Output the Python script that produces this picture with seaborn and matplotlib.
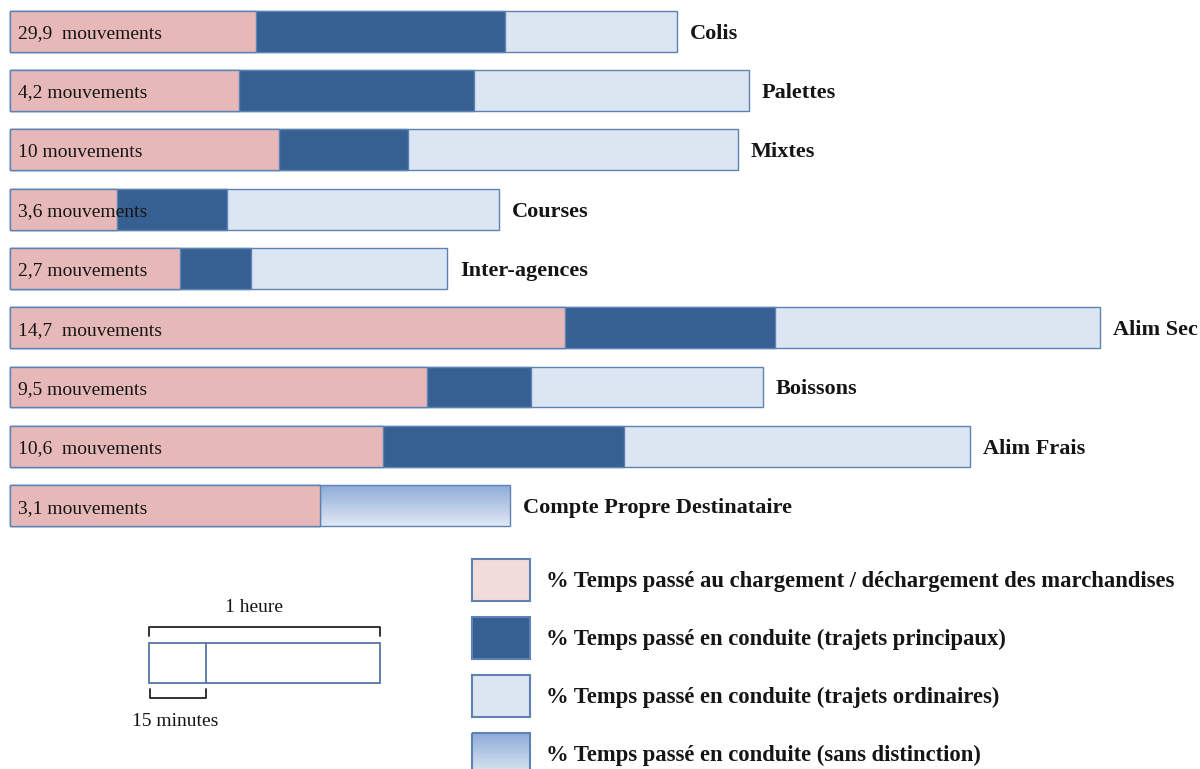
import numpy as np
import pandas as pd
import matplotlib
matplotlib.use("Agg")
import matplotlib.pyplot as plt
from matplotlib.patches import Rectangle
from matplotlib.colors import to_rgb
import seaborn as sns

# ---- data (durations in minutes per tour) ----
categories = ["Colis", "Palettes", "Mixtes", "Courses", "Inter-agences",
              "Alim Sec", "Boissons", "Alim Frais", "Compte Propre Destinataire"]
mouvements = ["29,9 ", "4,2", "10", "3,6", "2,7", "14,7 ", "9,5", "10,6 ", "3,1"]
chargement = [63.9, 59.5, 69.9, 27.8, 44.2, 144.2, 108.4, 96.9, 80.4]
conduite_principale = [64.7, 61.0, 33.5, 28.6, 18.4, 54.5, 26.9, 62.6, 0.0]
conduite_ordinaire = [44.7, 71.4, 85.7, 70.6, 50.9, 84.4, 60.3, 89.9, 0.0]
conduite_sans_distinction = [0.0, 0.0, 0.0, 0.0, 0.0, 0.0, 0.0, 0.0, 49.4]

legend_labels = [
    "% Temps passé au chargement / déchargement des marchandises",
    "% Temps passé en conduite (trajets principaux)",
    "% Temps passé en conduite (trajets ordinaires)",
    "% Temps passé en conduite (sans distinction)",
]
scale_hour_label = "1 heure"
scale_quarter_label = "15 minutes"

# ---- styling ----
PINK = "#e6b9b8"
PINK_LIGHT = "#f2dcdb"
DARK = "#376092"
LIGHT = "#dce6f2"
GRAD_TOP = "#8eacd9"
GRAD_BOTTOM = "#e0e8f4"
EDGE = "#5f82b4"
TEXT = "#151515"
SERIF = "Liberation Serif"

sns.set_theme(style="white")
plt.rcParams["font.family"] = [SERIF, "DejaVu Serif"]

W, H = 1200, 769
fig = plt.figure(figsize=(W / 100, H / 100), dpi=100)
fig.patch.set_facecolor("white")

PX_PER_MIN = 231 / 60.0      # one hour spans 231 px
X0_PX = 10                   # left edge of every bar
ROW_PX = 59.3                # distance between bar centres
FIRST_CENTER_PX = 31.2
TEXT_DROP = 2.5 / ROW_PX     # nudge labels so the glyphs sit centred on the bars
n = len(categories)
top_px = FIRST_CENTER_PX - 0.5 * ROW_PX
bot_px = FIRST_CENTER_PX + (n - 0.5) * ROW_PX
ax = fig.add_axes([0, 1 - bot_px / H, 1, (bot_px - top_px) / H])

df = pd.DataFrame({
    "categorie": categories,
    "chargement": chargement,
    "principale": conduite_principale,
    "ordinaire": conduite_ordinaire,
    "sans": conduite_sans_distinction,
})
df["cum_principale"] = df["chargement"] + df["principale"]
df["total"] = df["cum_principale"] + df["ordinaire"] + df["sans"]

bar_kw = dict(y="categorie", order=categories, orient="h", width=0.69,
              errorbar=None, edgecolor=EDGE, linewidth=1.0, ax=ax)
sns.barplot(data=df, x="total", color=LIGHT, saturation=1, **bar_kw)
total_bars = list(ax.containers[0])
sns.barplot(data=df, x="cum_principale", color=DARK, saturation=1, **bar_kw)
sns.barplot(data=df, x="chargement", color=PINK, saturation=1, **bar_kw)

# gradient fill for the undifferentiated driving time
grad = np.linspace(0, 1, 64)[:, None, None]
grad_img = (1 - grad) * np.array(to_rgb(GRAD_TOP)) + grad * np.array(to_rgb(GRAD_BOTTOM))
for i, row in df.iterrows():
    if row["sans"] > 0:
        left = row["cum_principale"] + row["ordinaire"]
        bar = total_bars[i]
        y_top = bar.get_y()
        h = bar.get_height()
        ax.imshow(grad_img, extent=(left, row["total"], y_top + h, y_top),
                  aspect="auto", origin="upper", zorder=0.5, interpolation="bilinear")
        bar.set_facecolor("none")

for i, row in df.iterrows():
    ax.text(8 / PX_PER_MIN, i + TEXT_DROP, f"{mouvements[i]} mouvements",
            ha="left", va="center", fontsize=14, color=TEXT, zorder=5)
    ax.text(row["total"] + 13 / PX_PER_MIN, i + TEXT_DROP, row["categorie"],
            ha="left", va="center", fontsize=16, fontweight="bold", color=TEXT)

ax.set_xlim(-X0_PX / PX_PER_MIN, (W - X0_PX) / PX_PER_MIN)
ax.set_ylim(n - 0.5, -0.5)
ax.axis("off")

# ---- overlay in pixel coordinates for the key ----
ov = fig.add_axes([0, 0, 1, 1])
ov.set_xlim(0, W)
ov.set_ylim(H, 0)
ov.axis("off")
ov.patch.set_alpha(0)

sw_x, sw_w, sw_h = 472, 58, 42
sw_tops = [559, 617, 675, 733]
sw_colors = [PINK_LIGHT, DARK, LIGHT, None]
for top, col, lab in zip(sw_tops, sw_colors, legend_labels):
    if col is None:
        ov.imshow(grad_img, extent=(sw_x, sw_x + sw_w, top + sw_h, top),
                  aspect="auto", origin="upper", zorder=1, interpolation="bilinear")
        ov.add_patch(Rectangle((sw_x, top), sw_w, sw_h, facecolor="none",
                               edgecolor=EDGE, linewidth=1.5, zorder=2))
    else:
        ov.add_patch(Rectangle((sw_x, top), sw_w, sw_h, facecolor=col,
                               edgecolor=EDGE, linewidth=1.5, zorder=2))
    ov.text(546, top + sw_h / 2 + 1.5, lab, ha="left", va="center", fontsize=16.3,
            fontweight="bold", color=TEXT)

# time scale: one hour box split at fifteen minutes
sc_x, sc_top, sc_h = 148.5, 643, 40
hour_w = 60 * PX_PER_MIN
quarter_w = 15 * PX_PER_MIN
ov.add_patch(Rectangle((sc_x, sc_top), hour_w, sc_h, facecolor="white",
                       edgecolor="#5674a4", linewidth=1.3, zorder=2))
ov.plot([sc_x + quarter_w] * 2, [sc_top, sc_top + sc_h], color="#5674a4", lw=1.3, zorder=3)
ov.plot([sc_x, sc_x, sc_x + hour_w, sc_x + hour_w], [636, 627, 627, 636],
        color="#222222", lw=1.3, solid_joinstyle="round")
ov.plot([sc_x + 1, sc_x + 1, sc_x + quarter_w, sc_x + quarter_w], [689, 698, 698, 689],
        color="#222222", lw=1.3, solid_joinstyle="round")
ov.text(sc_x + hour_w / 2 - 10, 607, scale_hour_label, ha="center", va="center",
        fontsize=14, color=TEXT)
ov.text(175, 722, scale_quarter_label, ha="center", va="center", fontsize=14, color=TEXT)

fig.savefig("out.png", dpi=100, facecolor="white")
